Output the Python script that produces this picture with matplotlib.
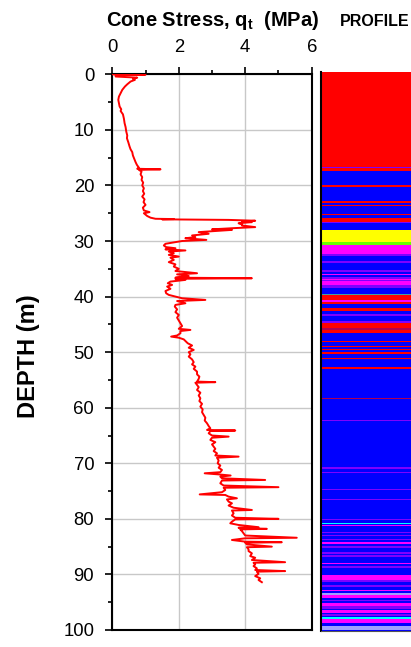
import matplotlib
matplotlib.use("Agg")
import matplotlib.pyplot as plt
from matplotlib.ticker import MultipleLocator

plt.rcParams['font.family'] = ['Liberation Sans', 'DejaVu Sans']
plt.rcParams['mathtext.fontset'] = 'custom'
plt.rcParams['mathtext.rm'] = 'Liberation Sans'
plt.rcParams['mathtext.bf'] = 'Liberation Sans:bold'

# ---- Cone stress profile data (depth m, qt MPa) ----
depth_m = [0.0, 0.05, 0.15, 0.4, 0.6, 0.8, 1.0, 1.3, 1.8, 2.2, 2.8, 3.4, 4.0, 4.6, 5.2, 5.8, 6.3, 6.6,
           7.2, 8.0, 8.8, 9.5, 10.3, 11.0, 11.5, 12.2, 13.0, 13.5, 14.0, 14.6, 15.2, 15.8, 16.3, 16.8,
           17.0, 17.1, 17.2, 17.5, 18.0, 18.5, 19.0, 19.5, 20.0, 20.5, 21.0, 21.5, 22.0, 22.5, 23.0,
           23.5, 24.0, 24.5, 24.8, 25.0, 25.5, 25.8, 26.0, 26.05, 26.1, 26.2, 26.35, 26.5, 26.6, 26.8,
           27.0, 27.2, 27.5, 27.7, 27.9, 28.0, 28.2, 28.4, 28.7, 29.0, 29.3, 29.5, 29.8, 30.0, 30.2,
           30.5, 30.8, 31.1, 31.3, 31.5, 31.7, 31.9, 32.2, 32.5, 32.8, 33.0, 33.4, 33.8, 34.2, 34.6,
           35.0, 35.4, 35.8, 36.0, 36.3, 36.6, 36.7, 36.8, 37.0, 37.3, 37.6, 37.9, 38.2, 38.6, 39.0,
           39.4, 39.7, 40.0, 40.3, 40.6, 40.8, 41.2, 41.5, 41.8, 42.3, 42.8, 43.3, 43.8, 44.3, 44.8,
           45.3, 45.8, 46.0, 46.2, 46.6, 47.0, 47.2, 47.4, 47.7, 48.0, 48.4, 48.8, 49.2, 49.6, 50.0,
           50.4, 50.8, 51.3, 51.8, 52.2, 52.6, 53.0, 53.5, 54.0, 54.4, 54.8, 55.3, 55.4, 55.5, 55.9,
           56.3, 56.8, 57.3, 57.8, 58.3, 58.8, 59.3, 59.8, 60.3, 60.8, 61.3, 61.8, 62.3, 62.8, 63.3,
           63.7, 64.0, 64.1, 64.2, 64.6, 65.0, 65.2, 65.4, 65.8, 66.2, 66.6, 67.0, 67.4, 67.8, 68.2,
           68.6, 68.8, 69.0, 69.5, 70.0, 70.4, 70.8, 71.2, 71.6, 71.8, 72.0, 72.2, 72.4, 72.7, 73.0,
           73.1, 73.6, 74.0, 74.3, 74.4, 74.8, 75.2, 75.6, 75.7, 76.0, 76.3, 76.5, 76.9, 77.2, 77.6,
           78.0, 78.4, 78.5, 79.0, 79.4, 79.8, 80.0, 80.1, 80.5, 80.8, 81.1, 81.5, 81.6, 81.8, 81.9,
           82.2, 82.6, 83.0, 83.4, 83.5, 83.8, 84.1, 84.2, 84.3, 84.6, 85.0, 85.1, 85.5, 85.8, 86.2,
           86.7, 87.0, 87.4, 87.8, 87.9, 88.2, 88.5, 88.9, 89.2, 89.4, 89.5, 89.9, 90.3, 90.7, 91.0,
           91.2, 91.4]
qt_mpa = [0.0, 1.0, 0.1, 0.1, 0.75, 0.62, 0.68, 0.55, 0.45, 0.38, 0.3, 0.25, 0.2, 0.18, 0.2, 0.22, 0.27, 0.25,
          0.32, 0.35, 0.37, 0.4, 0.42, 0.45, 0.44, 0.48, 0.52, 0.55, 0.6, 0.62, 0.66, 0.7, 0.74, 0.8,
          0.75, 1.45, 0.8, 0.88, 0.85, 0.9, 0.88, 0.93, 0.9, 0.95, 0.92, 0.96, 0.9, 0.97, 0.94,
          1.0, 0.92, 0.95, 1.12, 0.95, 1.05, 1.15, 1.3, 1.85, 1.5, 3.5, 4.3, 3.9, 4.2, 3.8,
          3.9, 3.9, 4.3, 3.6, 3.0, 3.6, 3.1, 2.6, 2.9, 2.4, 2.5, 2.2, 2.83, 2.1, 1.9,
          1.6, 1.55, 1.62, 1.9, 1.6, 2.2, 1.7, 1.85, 1.7, 2.0, 1.75, 1.85, 1.7, 1.9, 1.85,
          2.0, 1.9, 2.55, 1.95, 2.3, 1.9, 4.2, 1.9, 2.2, 1.75, 1.67, 1.8, 1.65, 1.75, 1.6,
          1.62, 1.7, 1.9, 2.1, 2.8, 1.95, 2.2, 1.9, 1.88, 1.95, 1.9, 2.0, 1.95, 2.0, 2.05,
          2.1, 2.0, 2.35, 2.05, 2.05, 1.95, 1.77, 2.0, 2.15, 2.2, 2.27, 2.4, 2.3, 2.45, 2.3,
          2.35, 2.3, 2.4, 2.45, 2.4, 2.5, 2.45, 2.55, 2.55, 2.62, 2.6, 2.55, 3.1, 2.5, 2.55,
          2.6, 2.55, 2.65, 2.6, 2.65, 2.62, 2.7, 2.65, 2.72, 2.7, 2.75, 2.8, 2.78, 2.85, 2.9,
          2.95, 2.85, 3.7, 2.95, 2.9, 3.0, 3.5, 3.0, 2.95, 3.1, 3.0, 3.05, 3.1, 3.05, 3.15,
          3.1, 3.8, 3.15, 3.2, 3.17, 3.25, 3.2, 3.3, 3.25, 2.78, 3.2, 3.56, 3.25, 3.3, 4.6,
          3.3, 3.25, 3.35, 5.0, 3.35, 3.4, 3.3, 2.63, 3.4, 3.5, 3.75, 3.45, 3.5, 3.6, 3.5,
          3.65, 4.2, 3.6, 3.65, 3.6, 3.7, 5.0, 3.7, 3.6, 3.55, 3.8, 4.4, 3.8, 4.65, 3.85,
          3.9, 3.95, 4.0, 5.55, 4.0, 3.6, 4.0, 5.1, 4.0, 4.05, 4.8, 4.05, 4.1, 4.1, 4.2,
          4.15, 4.3, 4.2, 5.2, 4.25, 4.3, 4.25, 4.35, 4.3, 5.2, 4.35, 4.4, 4.3, 4.45, 4.4,
          4.45, 4.5]

# ---- Soil profile layers ----
layer_top = [0.0, 17.0, 17.2, 20.3, 23.2, 23.8, 25.4, 26.2, 26.8, 28.3, 30.4, 31.0, 32.6, 33.9, 35.5,
             36.2, 36.7, 37.0, 37.2, 37.4, 38.1, 39.7, 39.95, 40.9, 41.2, 42.3, 43.3, 44.6, 45.0, 45.8,
             46.1, 48.1, 49.0, 49.5, 50.2, 51.1, 52.8, 53.0, 58.3, 62.2, 70.6, 71.6, 74.6, 76.4, 80.0,
             80.7, 81.0, 82.3, 82.8, 83.5, 84.0, 84.8, 85.9, 86.5, 87.8, 88.4, 90.0, 90.9, 91.8, 92.6,
             93.2, 93.5, 94.4, 95.0, 95.6, 96.3, 96.9, 97.5, 97.9, 99.1]
layer_bot = [17.0, 17.2, 17.8, 20.7, 23.4, 24.0, 25.7, 26.8, 27.0, 30.4, 31.0, 32.6, 32.95, 34.2, 35.8,
             36.4, 37.0, 37.2, 37.4, 38.1, 38.6, 39.95, 40.9, 41.2, 41.5, 42.8, 43.7, 44.9, 45.8, 46.1,
             46.7, 48.4, 49.3, 49.7, 50.4, 51.3, 52.9, 53.2, 58.55, 62.45, 71.0, 71.8, 74.8, 76.6, 80.2,
             80.9, 81.3, 82.5, 83.0, 83.8, 84.4, 85.1, 86.2, 86.7, 88.0, 88.7, 90.9, 91.2, 92.2, 92.9,
             93.5, 94.1, 94.7, 95.6, 96.1, 96.7, 97.4, 97.8, 98.6, 99.8]
layer_class = ['R', 'P', 'R', 'R', 'R', 'R', 'R', 'R', 'P', 'Y', 'G', 'M', 'P', 'P', 'P',
               'M', 'P', 'M', 'P', 'M', 'P', 'T', 'R', 'M', 'R', 'R', 'P', 'P', 'R', 'D',
               'R', 'R', 'R', 'R', 'R', 'R', 'R', 'R', 'D', 'P', 'P', 'P', 'P', 'P', 'P',
               'C', 'M', 'P', 'P', 'P', 'M', 'P', 'P', 'P', 'M', 'P', 'M', 'P', 'P', 'M',
               'L', 'M', 'P', 'M', 'P', 'M', 'P', 'C', 'M', 'L']
class_colors = {'R': '#FF0000', 'B': '#0000FF', 'Y': '#FFFF00', 'G': '#66FF00', 'M': '#FF00FF',
                'P': '#8000FF', 'C': '#00FFFF', 'T': '#40A0A0', 'L': '#A0A0FF', 'D': '#B00050'}

x_ticks = [0, 2, 4, 6]
y_ticks = [0, 10, 20, 30, 40, 50, 60, 70, 80, 90, 100]

W, H = 411, 647
fig = plt.figure(figsize=(W / 100, H / 100), dpi=100)

# main axes
ax = fig.add_axes([112.3 / W, 1 - 630 / H, (311.7 - 112.3) / W, (630 - 74.3) / H])
ax.plot(qt_mpa, depth_m, color='#FF0000', lw=1.4, zorder=3)
ax.set_xlim(0, 6)
ax.set_ylim(100, 0)
ax.xaxis.tick_top()
ax.set_xticks(x_ticks)
ax.set_yticks(y_ticks)
ax.xaxis.set_minor_locator(MultipleLocator(1))
ax.yaxis.set_minor_locator(MultipleLocator(5))
ax.grid(True, which='major', color='#C8C8C8', lw=1.0, zorder=0)
ax.set_axisbelow(True)
ax.tick_params(which='major', direction='out', length=5, width=1.2, labelsize=13.3, pad=8,
               top=True, bottom=False, left=True, right=False, colors='black')
ax.tick_params(which='minor', direction='out', length=3, width=1.2,
               top=True, bottom=False, left=True, right=False)
for s in ax.spines.values():
    s.set_linewidth(1.5)
    s.set_color('black')

# profile axes
axp = fig.add_axes([320.7 / W, 1 - 631 / H, 1.0 - 320.7 / W + 0.02, (631 - 71.7) / H])
axp.set_xlim(0, 1)
axp.set_ylim(100, 0)
axp.axhspan(0, 100, color=class_colors['B'], lw=0)
for t, b, c in zip(layer_top, layer_bot, layer_class):
    axp.axhspan(t, b, color=class_colors[c], lw=0)
axp.set_xticks([])
axp.set_yticks([])
for k, s in axp.spines.items():
    s.set_visible(False)
axp.spines['left'].set_visible(True)
axp.spines['left'].set_linewidth(1.5)
axp.spines['bottom'].set_visible(True)
axp.spines['bottom'].set_linewidth(0.8)
axp.spines['bottom'].set_color('#555555')

# texts
fig.text(213 / W, 1 - 26 / H, r'Cone Stress, q$_{\mathbf{t}}$  (MPa)', fontsize=14.5, fontweight='bold',
         ha='center', va='baseline')
fig.text(374.5 / W, 1 - 26 / H, 'PROFILE', fontsize=11.5, fontweight='bold', ha='center', va='baseline')
fig.text(28 / W, 1 - 356 / H, 'DEPTH (m)', fontsize=17, fontweight='bold', rotation=90,
         ha='center', va='center')

fig.savefig('out.png', dpi=100)
